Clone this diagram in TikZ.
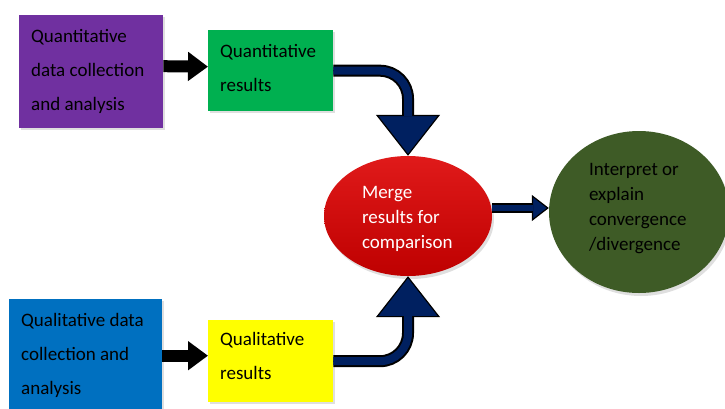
\documentclass[tikz,border=0pt]{standalone}
\usepackage{fontspec}
\setmainfont{Carlito}
\usepackage{tikz}
\usetikzlibrary{arrows.meta}
\usetikzlibrary{shadows}
\usetikzlibrary{shapes.geometric}
\definecolor{quantpurple}{HTML}{7030A0}
\definecolor{quantgreen}{HTML}{00B050}
\definecolor{qualblue}{HTML}{0070C0}
\definecolor{qualyellow}{HTML}{FFFF00}
\definecolor{mergered}{HTML}{BE0000}
\definecolor{mergetop}{HTML}{E01A1A}
\definecolor{olivedark}{HTML}{3E5B26}
\definecolor{navyarrow}{HTML}{002060}

\begin{document}
\begin{tikzpicture}[line cap=butt,line join=round, x=1pt, y=-1pt,
  box/.style={rectangle, anchor=north west, inner xsep=0pt, align=flush left,
    font=\fontsize{19}{34}\selectfont,
    drop shadow={opacity=0.25, shadow xshift=2pt, shadow yshift=-2pt}},
  blob/.style={ellipse, inner sep=0pt, align=flush left,
    font=\fontsize{19}{25}\selectfont,
    drop shadow={opacity=0.25, shadow xshift=2pt, shadow yshift=-3pt}},
  fat/.style={line width=12pt, -{Triangle[length=20pt, width=28pt]}},
  bentshaft/.style={double=navyarrow, double distance=8pt, line width=2pt, rounded corners=28pt, shorten >=40pt},
  benthead/.style={line width=1.2pt, rounded corners=28pt, -{Triangle[length=41pt, width=64pt, fill=navyarrow]}},
  flatshaft/.style={double=navyarrow, double distance=6pt, line width=2pt, shorten >=16pt},
  flathead/.style={line width=1.2pt, -{Triangle[length=17pt, width=26pt, fill=navyarrow]}}]
\clip(0,0) rectangle (725,408);

\node [box, fill=quantpurple, minimum width=144pt, minimum height=113pt, text width=120pt] (quantdata) at (19,15) {Quantitative\\data collection\\and analysis};
\node [box, fill=quantgreen, minimum width=125pt, minimum height=81pt, text width=101pt, text depth=40pt] (quantres) at (208,30) {Quantitative\\results};
\node [box, fill=qualblue, minimum width=153pt, minimum height=113pt, text width=129pt] (qualdata) at (9,299) {Qualitative data\\collection and\\analysis};
\node [box, fill=qualyellow, minimum width=125pt, minimum height=82pt, text width=101pt, text depth=44pt] (qualres) at (208,320) {Qualitative\\results};
\node [blob, top color=mergetop, bottom color=mergered, text=white, minimum width=168pt, minimum height=120pt, text width=92pt, text depth=46.5pt] (merge) at (408,216) {Merge\\results for\\comparison};
\node [blob, fill=olivedark, minimum width=180pt, minimum height=162pt, text width=100pt, text depth=85.5pt] (interp) at (639,212) {Interpret or\\explain\\convergence\\/divergence};

\draw [fat] ([yshift=5.5pt]quantdata.east) -- ([yshift=4pt]quantres.west);
\draw [fat] (qualdata.east) -- ([yshift=5.5pt]qualres.west);

\draw [benthead] (quantres.east) -| (merge.north);
\draw [bentshaft] (quantres.east) -| (merge.north);
\draw [benthead] (qualres.east) -| (merge.south);
\draw [bentshaft] (qualres.east) -| (merge.south);

\draw [flathead] ([yshift=8pt]merge.east) -- ([yshift=4pt]interp.west);
\draw [flatshaft] ([yshift=8pt]merge.east) -- ([yshift=4pt]interp.west);
\end{tikzpicture}
\end{document}
